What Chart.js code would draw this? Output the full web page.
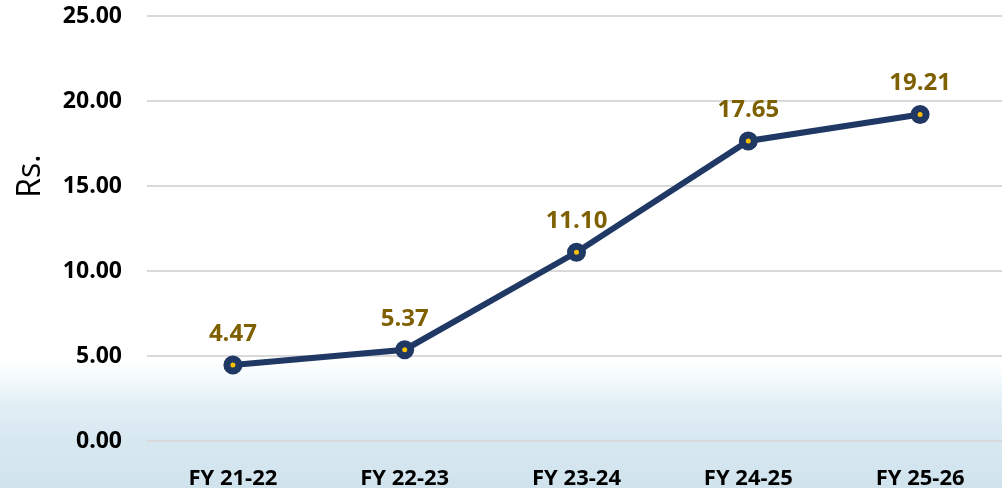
<!DOCTYPE html>
<html>
<head>
<meta charset="utf-8">
<script src="https://cdn.jsdelivr.net/npm/chart.js@4.4.1/dist/chart.umd.min.js"></script>
<style>
  html, body { margin: 0; padding: 0; }
  body {
    width: 1002px; height: 488px; overflow: hidden;
    background: linear-gradient(to bottom, #ffffff 0px, #ffffff 360px, #f3fafd 380px, #e2eff5 402px, #d8e8f1 440px, #d0e3ed 488px);
  }
  #wrap { position: relative; width: 1002px; height: 488px; overflow: hidden; }
</style>
</head>
<body>
<div id="wrap"><canvas id="chart" width="1019" height="488"></canvas></div>
<script>
const categories = ['FY 21-22', 'FY 22-23', 'FY 23-24', 'FY 24-25', 'FY 25-26'];
const values = [4.47, 5.37, 11.10, 17.65, 19.21];
const yTicks = [0, 5, 10, 15, 20, 25];
const axisTitle = 'Rs.';

const navy = '#1F3864';
const gold = '#7F6000';

// value labels above each point
const pointLabels = {
  id: 'pointLabels',
  afterDatasetsDraw(chart) {
    const ctx = chart.ctx;
    const meta = chart.getDatasetMeta(0);
    ctx.save();
    ctx.font = 'bold 24px "Open Sans"';
    ctx.fillStyle = gold;
    ctx.textAlign = 'center';
    ctx.textBaseline = 'bottom';
    meta.data.forEach((pt, i) => {
      ctx.fillText(values[i].toFixed(2), pt.x, pt.y - 19);
    });
    ctx.restore();
  }
};

// rotated axis title, sits above the middle like the original
const yTitle = {
  id: 'yTitle',
  afterDraw(chart) {
    const ctx = chart.ctx;
    ctx.save();
    ctx.translate(31, 176);
    ctx.rotate(-Math.PI / 2);
    ctx.font = '32px "Open Sans"';
    ctx.fillStyle = '#000';
    ctx.textAlign = 'center';
    ctx.textBaseline = 'middle';
    ctx.fillText(axisTitle, 0, 0);
    ctx.restore();
  }
};

new Chart(document.getElementById('chart'), {
  type: 'line',
  data: {
    labels: categories,
    datasets: [{
      data: values,
      borderColor: navy,
      borderWidth: 6,
      pointRadius: 6,
      pointBorderWidth: 7,
      pointBorderColor: navy,
      pointBackgroundColor: '#FFC000',
      tension: 0,
      clip: false
    }]
  },
  options: {
    responsive: false,
    animation: false,
    layout: { padding: { left: 0, right: 0, top: 16, bottom: 0 } },
    plugins: { legend: { display: false }, tooltip: { enabled: false } },
    scales: {
      x: {
        offset: true,
        grid: { display: false },
        border: { display: false },
        ticks: { color: '#000', font: { family: 'Open Sans', weight: 'bold', size: 22 }, padding: 17 },
        afterFit(scale) { scale.height = 47; scale.paddingLeft = 0; scale.paddingRight = 0; }
      },
      y: {
        min: 0,
        max: 25,
        afterBuildTicks(axis) { axis.ticks = yTicks.map(v => ({ value: v })); },
        grid: { color: '#d9d9d9', lineWidth: 2, drawTicks: false },
        border: { display: false },
        ticks: {
          color: '#000',
          font: { family: 'Open Sans', weight: 'bold', size: 23 },
          padding: 25,
          callback: v => v.toFixed(2)
        },
        afterFit(scale) { scale.width = 147; scale.paddingTop = 0; scale.paddingBottom = 0; }
      }
    }
  },
  plugins: [pointLabels, yTitle]
});
</script>
</body>
</html>
